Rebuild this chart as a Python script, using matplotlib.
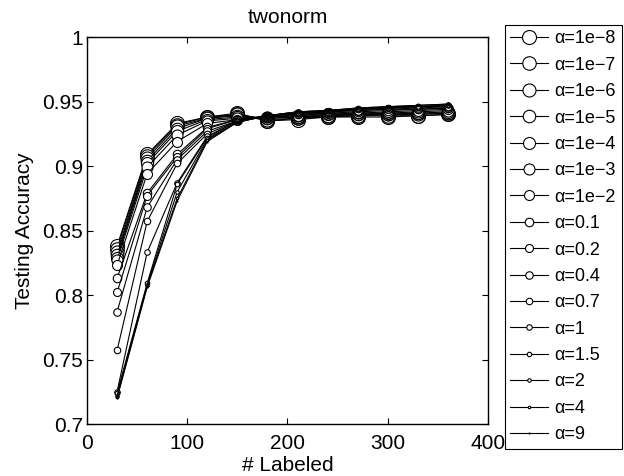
import matplotlib
matplotlib.use("Agg")
import matplotlib.pyplot as plt

plt.rcParams["font.family"] = ["Liberation Sans", "DejaVu Sans"]

# numero de exemplos rotulados
labeled = [30, 60, 90, 120, 150, 180, 210, 240, 270, 300, 330, 360]

alphas = ["1e\u22128", "1e\u22127", "1e\u22126", "1e\u22125", "1e\u22124", "1e\u22123", "1e\u22122",
          "0.1", "0.2", "0.4", "0.7", "1", "1.5", "2", "4", "9"]

acc_1e8 = [0.838, 0.909, 0.933, 0.938, 0.941, 0.935, 0.936, 0.938, 0.938, 0.938, 0.939, 0.940]
acc_1e7 = [0.836, 0.908, 0.932, 0.938, 0.940, 0.935, 0.937, 0.938, 0.939, 0.939, 0.939, 0.940]
acc_1e6 = [0.833, 0.906, 0.931, 0.937, 0.940, 0.936, 0.937, 0.939, 0.939, 0.940, 0.940, 0.941]
acc_1e5 = [0.831, 0.904, 0.929, 0.937, 0.939, 0.937, 0.938, 0.939, 0.940, 0.940, 0.941, 0.941]
acc_1e4 = [0.829, 0.902, 0.927, 0.936, 0.938, 0.937, 0.938, 0.940, 0.940, 0.941, 0.941, 0.942]
acc_1e3 = [0.827, 0.899, 0.924, 0.935, 0.937, 0.938, 0.939, 0.940, 0.941, 0.941, 0.942, 0.943]
acc_1e2 = [0.823, 0.894, 0.919, 0.933, 0.936, 0.938, 0.939, 0.941, 0.941, 0.942, 0.943, 0.944]
acc_01 = [0.813, 0.879, 0.909, 0.930, 0.936, 0.938, 0.940, 0.941, 0.942, 0.943, 0.944, 0.945]
acc_02 = [0.802, 0.877, 0.907, 0.929, 0.936, 0.939, 0.940, 0.942, 0.943, 0.944, 0.944, 0.945]
acc_04 = [0.787, 0.868, 0.905, 0.927, 0.935, 0.939, 0.941, 0.942, 0.943, 0.944, 0.945, 0.946]
acc_07 = [0.757, 0.857, 0.902, 0.925, 0.935, 0.939, 0.941, 0.942, 0.944, 0.945, 0.946, 0.946]
acc_1 = [0.725, 0.833, 0.887, 0.923, 0.935, 0.939, 0.941, 0.943, 0.944, 0.945, 0.946, 0.947]
acc_15 = [0.724, 0.809, 0.886, 0.922, 0.935, 0.939, 0.941, 0.943, 0.944, 0.945, 0.946, 0.947]
acc_2 = [0.722, 0.808, 0.880, 0.921, 0.934, 0.939, 0.942, 0.943, 0.944, 0.946, 0.946, 0.947]
acc_4 = [0.721, 0.807, 0.875, 0.920, 0.934, 0.939, 0.942, 0.943, 0.945, 0.946, 0.947, 0.948]
acc_9 = [0.720, 0.806, 0.873, 0.919, 0.934, 0.939, 0.942, 0.943, 0.945, 0.946, 0.947, 0.948]

series = [acc_1e8, acc_1e7, acc_1e6, acc_1e5, acc_1e4, acc_1e3, acc_1e2, acc_01,
          acc_02, acc_04, acc_07, acc_1, acc_15, acc_2, acc_4, acc_9]

# tamanho do marcador em pixels (diminui com alpha)
marker_px = [14, 13.5, 13, 12.5, 12, 11, 10, 8.5, 8, 7.5, 6.5, 5.5, 4.5, 3.5, 2.5, 1]

fig = plt.figure(figsize=(6.24, 4.76), dpi=100)
ax = fig.add_axes([0.1394, 0.1092, 0.6426, 0.813])

for a, vals, ms in zip(alphas, series, marker_px):
    ax.plot(labeled, vals, "-o", color="black", linewidth=0.8,
            markersize=ms * 0.72, markerfacecolor="white", markeredgecolor="black",
            markeredgewidth=0.8, label="\u03b1=" + a)

ax.set_xlim(0, 400)
ax.set_ylim(0.7, 1.0)
ax.set_xticks([0, 100, 200, 300, 400])
ax.set_yticks([0.7, 0.75, 0.8, 0.85, 0.9, 0.95, 1.0])
ax.set_yticklabels(["0.7", "0.75", "0.8", "0.85", "0.9", "0.95", "1"])
ax.tick_params(direction="in", top=True, right=True, labelsize=15, length=4)
ax.tick_params(axis="x", pad=7)
ax.tick_params(axis="y", pad=3)
for s in ax.spines.values():
    s.set_linewidth(1)

ax.set_title("twonorm", fontsize=15, pad=10)
ax.set_xlabel("# Labeled", fontsize=15, labelpad=2)
ax.set_ylabel("Testing Accuracy", fontsize=15, labelpad=6)

leg = fig.legend(loc="upper left", bbox_to_anchor=(505 / 624, 1 - 25 / 476),
                 fontsize=13, labelspacing=0.52, handlelength=2.1,
                 fancybox=False, edgecolor="black", framealpha=1,
                 borderaxespad=0, borderpad=0.3, handletextpad=0.35)
leg.get_frame().set_linewidth(0.8)

fig.savefig("out.png", dpi=100)
